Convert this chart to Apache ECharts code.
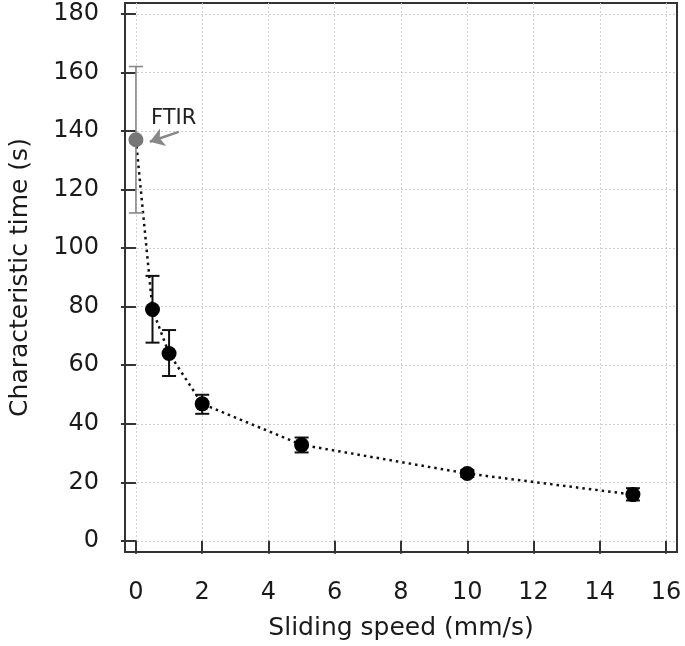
<!DOCTYPE html>
<html>
<head>
<meta charset="utf-8">
<script src="https://cdn.jsdelivr.net/npm/echarts@6/dist/echarts.min.js"></script>
<style>
html,body{margin:0;padding:0;background:#fff;}
#chart{width:685px;height:646px;}
</style>
</head>
<body>
<div id="chart"></div>
<script>
// ---- data ----
const speeds = [0.5, 1, 2, 5, 10, 15];
const times = [79, 64, 46.8, 32.8, 23, 15.8];
const errLow = [67.7, 56.3, 43.4, 30.2, 21.8, 13.8];
const errHigh = [90.5, 72, 49.9, 35.3, 24.2, 18];
const ftirSpeed = [0];
const ftirTime = [137];
const ftirLow = [112];
const ftirHigh = [162];
const xTicks = [0, 2, 4, 6, 8, 10, 12, 14, 16];
const yTicks = [0, 20, 40, 60, 80, 100, 120, 140, 160, 180];
const annotText = 'FTIR';
const annotLabelAt = [1.14, 144.2];
const arrowFrom = [1.29, 139.7];
const arrowTo = [0.42, 136.3];

const FONT = 'DejaVu Sans';
const chart = echarts.init(document.getElementById('chart'), null, {renderer: 'canvas'});

function errBarRenderer(color, lw, hw) {
  return function (params, api) {
    const x = api.value(0), lo = api.value(1), hi = api.value(2);
    const top = api.coord([x, hi]);
    const bot = api.coord([x, lo]);
    const st = {stroke: color, lineWidth: lw};
    return {type: 'group', children: [
      {type: 'line', shape: {x1: top[0], y1: top[1], x2: bot[0], y2: bot[1]}, style: st},
      {type: 'line', shape: {x1: top[0] - hw, y1: top[1], x2: top[0] + hw, y2: top[1]}, style: st},
      {type: 'line', shape: {x1: bot[0] - hw, y1: bot[1], x2: bot[0] + hw, y2: bot[1]}, style: st}
    ]};
  };
}

const lineData = ftirSpeed.map((s, i) => [s, ftirTime[i]]).concat(speeds.map((s, i) => [s, times[i]]));

const option = {
  animation: false,
  backgroundColor: '#fff',
  grid: {
    left: 123, top: 3, right: 8, bottom: 94,
    show: true, borderColor: '#333', borderWidth: 2, backgroundColor: 'transparent'
  },
  xAxis: {
    type: 'value', min: -0.33, max: 16.33,
    offset: 3,
    axisLine: {show: false},
    axisTick: {show: true, length: 13, inside: false, customValues: xTicks, lineStyle: {color: '#333', width: 2}},
    axisLabel: {show: true, customValues: xTicks, margin: 26, fontFamily: FONT, fontSize: 24, color: '#1a1a1a'},
    splitLine: {show: true, lineStyle: {color: '#cfcfcf', width: 1, type: [2, 2]}},
    name: 'Sliding speed (mm/s)', nameLocation: 'middle', nameGap: 61,
    nameTextStyle: {fontFamily: FONT, fontSize: 25, color: '#1a1a1a'}
  },
  yAxis: {
    type: 'value', min: -3.8, max: 183.7,
    offset: 0,
    axisLine: {show: false},
    axisTick: {show: true, length: 15, inside: false, customValues: yTicks, lineStyle: {color: '#333', width: 2}},
    axisLabel: {show: true, customValues: yTicks, margin: 26, fontFamily: FONT, fontSize: 24, color: '#1a1a1a'},
    splitLine: {show: true, lineStyle: {color: '#cfcfcf', width: 1, type: [2, 2]}},
    name: 'Characteristic time (s)', nameLocation: 'middle', nameGap: 92,
    nameTextStyle: {fontFamily: FONT, fontSize: 25, color: '#1a1a1a'}
  },
  series: [
    {
      type: 'line', data: lineData, symbol: 'none', silent: true,
      lineStyle: {color: '#111', width: 2.5, type: [2.5, 4]},
      z: 2,
      markLine: {
        silent: true, animation: false,
        symbol: ['none', 'arrow'], symbolSize: [14, 14],
        label: {show: false},
        lineStyle: {color: '#888', width: 2.5, type: 'solid'},
        data: [[{coord: arrowFrom}, {coord: arrowTo}]]
      },
      markPoint: {
        silent: true, animation: false,
        symbol: 'circle', symbolSize: 0,
        label: {show: true, position: 'inside', formatter: annotText, fontFamily: FONT, fontSize: 21, color: '#222'},
        data: [{coord: annotLabelAt}]
      }
    },
    {
      type: 'custom', silent: true, z: 3,
      renderItem: errBarRenderer('#888', 1.6, 7),
      encode: {x: 0, y: [1, 2]},
      data: ftirSpeed.map((s, i) => [s, ftirLow[i], ftirHigh[i]])
    },
    {
      type: 'custom', silent: true, z: 3,
      renderItem: errBarRenderer('#111', 2, 7),
      encode: {x: 0, y: [1, 2]},
      data: speeds.map((s, i) => [s, errLow[i], errHigh[i]])
    },
    {
      type: 'scatter', silent: true, z: 4,
      symbol: 'circle', symbolSize: 15,
      itemStyle: {color: '#777', opacity: 1},
      data: ftirSpeed.map((s, i) => [s, ftirTime[i]])
    },
    {
      type: 'scatter', silent: true, z: 4,
      symbol: 'circle', symbolSize: 15,
      itemStyle: {color: '#000', opacity: 1},
      data: speeds.map((s, i) => [s, times[i]])
    }
  ]
};
chart.setOption(option);
</script>
</body>
</html>
